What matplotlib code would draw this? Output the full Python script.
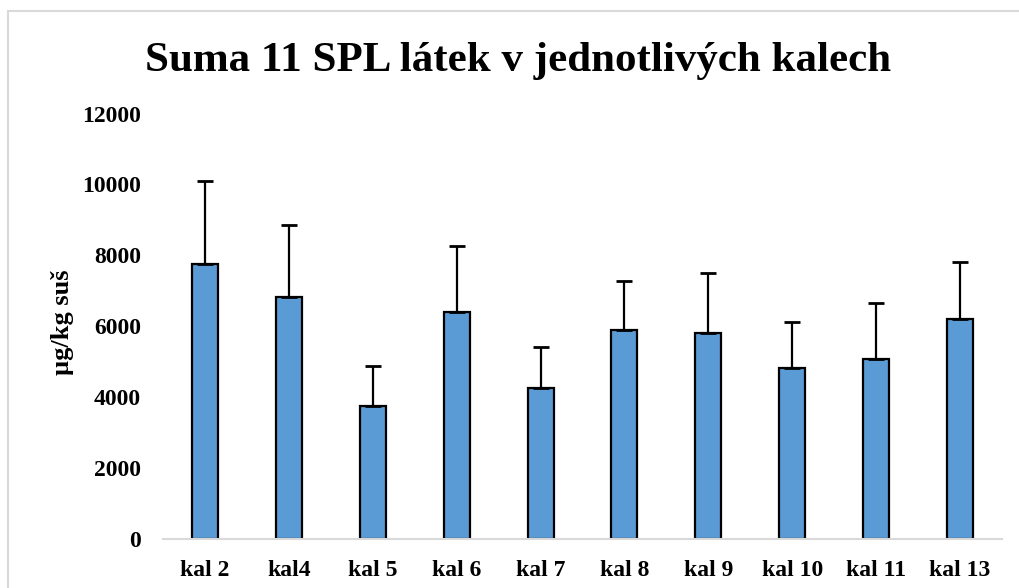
import matplotlib.pyplot as plt
from matplotlib.patches import Rectangle

categories = ['kal 2', 'kal4', 'kal 5', 'kal 6', 'kal 7', 'kal 8',
              'kal 9', 'kal 10', 'kal 11', 'kal 13']
means = [7760, 6820, 3760, 6410, 4260, 5900, 5820, 4820, 5070, 6210]
errors = [2350, 2050, 1120, 1860, 1170, 1380, 1690, 1300, 1580, 1600]
yticks = [0, 2000, 4000, 6000, 8000, 10000, 12000]

plt.rcParams['font.family'] = 'Liberation Serif'
plt.rcParams['font.weight'] = 'bold'

fig = plt.figure(figsize=(10.19, 5.88), dpi=100)
ax = fig.add_axes([163 / 1019, 1 - 539.3 / 588, (1002 - 163) / 1019, (539.3 - 113.5) / 588])

x = list(range(len(categories)))
ax.bar(x, means, width=0.31, color='#5B9BD5', edgecolor='black',
       linewidth=1.6, zorder=2)
ax.errorbar(x, means, yerr=[[0] * len(errors), errors], fmt='none',
            ecolor='black', elinewidth=1.6, capsize=5.5, capthick=2, zorder=3)

ax.set_xlim(-0.5, len(categories) - 0.5)
ax.set_ylim(0, 12000)
ax.set_yticks(yticks)
ax.set_xticks(x)
ax.set_xticklabels(categories, fontsize=17, fontweight='bold')
ax.set_yticklabels([str(t) for t in yticks], fontsize=17, fontweight='bold')
ax.tick_params(axis='both', length=0)
ax.tick_params(axis='y', pad=16)
ax.tick_params(axis='x', pad=15)

for s in ['top', 'right', 'left']:
    ax.spines[s].set_visible(False)
ax.spines['bottom'].set_color('#D9D9D9')
ax.spines['bottom'].set_linewidth(1.5)

fig.text(63 / 1019, 1 - 322 / 588, 'µg/kg suš', rotation=90, fontsize=19,
         fontweight='bold', ha='center', va='center')
fig.text(518 / 1019, 1 - 61 / 588, 'Suma 11 SPL látek v jednotlivých kalech',
         fontsize=31, fontweight='bold', ha='center', va='center')

# chart frame (runs off the right and bottom edges)
fig.patches.append(Rectangle((8 / 1019, -0.1), 1.2, 1.1 - 11 / 588,
                             transform=fig.transFigure, fill=False,
                             edgecolor='#D9D9D9', linewidth=1.5))

fig.savefig('out.png', dpi=100)
